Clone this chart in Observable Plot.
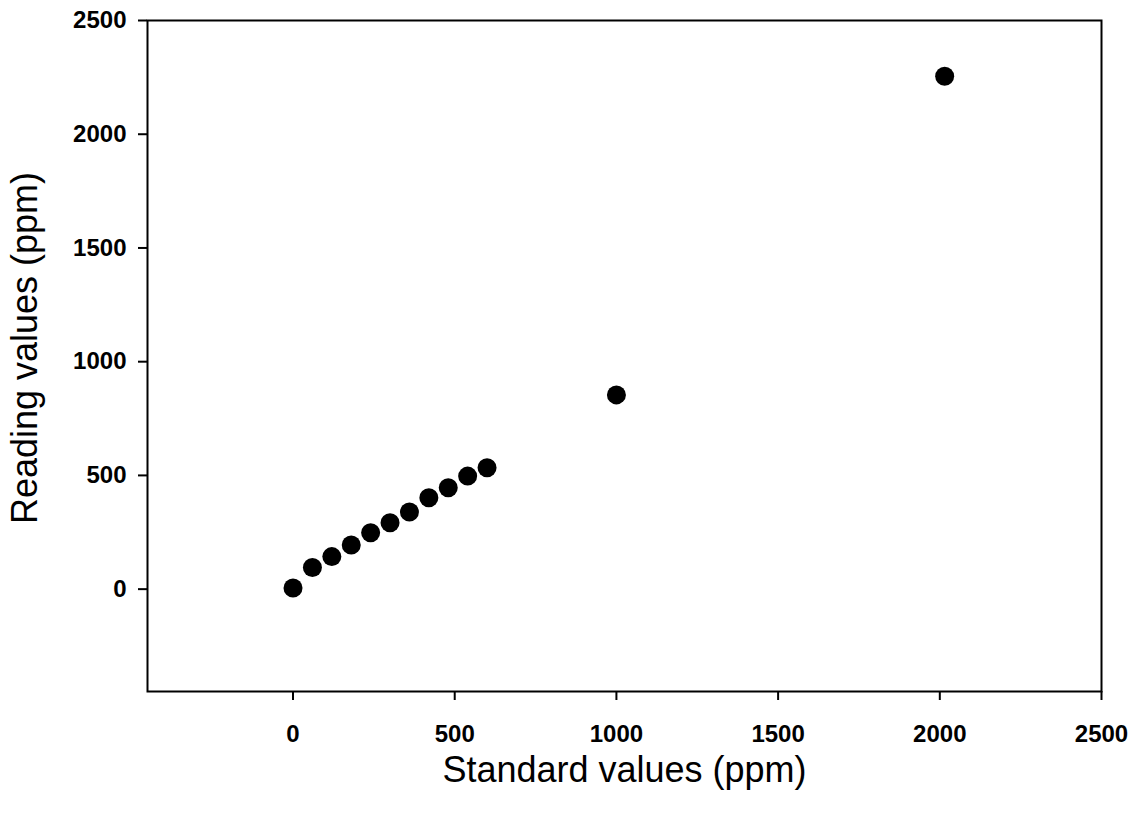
<!DOCTYPE html>
<html>
<head>
<meta charset="utf-8">
<script src="https://cdn.jsdelivr.net/npm/d3@7"></script>
<script src="https://cdn.jsdelivr.net/npm/@observablehq/plot@0.6"></script>
<style>
  html, body { margin: 0; padding: 0; background: #fff; }
  #chart svg { display: block; }
</style>
</head>
<body>
<div id="chart"></div>
<script>
const standard = [0, 60, 120, 180, 240, 300, 360, 420, 480, 540, 600, 1000, 2015];
const reading  = [5, 95, 143, 194, 248, 292, 339, 402, 446, 497, 534, 854, 2255];
const xTicks = [0, 500, 1000, 1500, 2000, 2500];
const yTicks = [0, 500, 1000, 1500, 2000, 2500];
const xLabel = "Standard values (ppm)";
const yLabel = "Reading values (ppm)";

const data = standard.map((s, i) => ({standard: s, reading: reading[i]}));

const chart = Plot.plot({
  width: 1143,
  height: 817,
  marginLeft: 147,
  marginRight: 42,
  marginTop: 20,
  marginBottom: 126,
  style: {fontFamily: "'Liberation Sans', Arial, sans-serif", background: "#fff", color: "#000"},
  x: {domain: [-450, 2500]},
  y: {domain: [-450, 2500]},
  marks: [
    Plot.frame({stroke: "#000", strokeWidth: 2}),
    Plot.axisX({ticks: xTicks, tickSize: 9, tickPadding: 24, tickFormat: d => String(d), fontSize: 24, fontWeight: "bold", strokeWidth: 2, label: null}),
    Plot.axisY({ticks: yTicks, tickSize: 9, tickPadding: 12, tickFormat: d => String(d), fontSize: 24, fontWeight: "bold", strokeWidth: 2, label: null}),
    Plot.text([xLabel], {frameAnchor: "bottom", textAnchor: "middle", lineAnchor: "middle", dy: 79, fontSize: 36, fill: "#000"}),
    Plot.text([yLabel], {frameAnchor: "left", textAnchor: "middle", dx: -122, dy: -8, rotate: -90, fontSize: 36, fill: "#000"}),
    Plot.dot(data, {x: "standard", y: "reading", r: 9.5, fill: "#000", stroke: "none"})
  ]
});
document.getElementById("chart").appendChild(chart);
</script>
</body>
</html>
